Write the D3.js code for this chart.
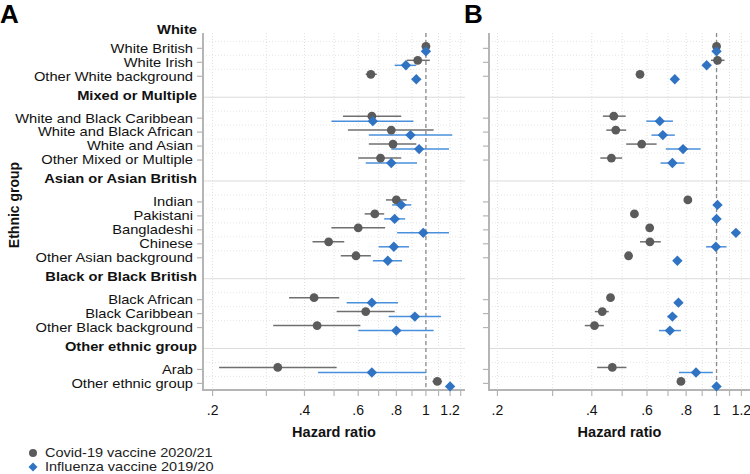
<!DOCTYPE html>
<html><head><meta charset="utf-8">
<script src="https://cdn.jsdelivr.net/npm/d3@7"></script>
<style>
body{margin:0;background:#fff;}
svg{display:block;font-family:"Liberation Sans",Arial,Helvetica,sans-serif;}
</style></head>
<body><svg id="chart" width="750" height="474"></svg>
<script>
// ---------- DATA ----------
const categories = ["White","White British","White Irish","Other White background",
  "Mixed or Multiple","White and Black Caribbean","White and Black African","White and Asian","Other Mixed or Multiple",
  "Asian or Asian British","Indian","Pakistani","Bangladeshi","Chinese","Other Asian background",
  "Black or Black British","Black African","Black Caribbean","Other Black background",
  "Other ethnic group","Arab","Other ethnic group"];
const headingIdx = [0,4,9,15,19];

// Panel A
const covidA_hr = [1.00,0.94,0.66, 0.665,0.77,0.78,0.71, 0.80,0.68,0.60,0.48,0.59, 0.43,0.635,0.44, 0.327,1.09];
const covidA_lo = [1.00,0.865,0.635, 0.535,0.555,0.65,0.60, 0.74,0.63,0.49,0.425,0.526, 0.356,0.51,0.316, 0.21,1.05];
const covidA_hi = [1.00,1.03,0.69, 0.83,1.06,0.93,0.83, 0.865,0.73,0.735,0.54,0.66, 0.52,0.79,0.61, 0.51,1.13];
const fluA_hr = [1.00,0.86,0.93, 0.67,0.89,0.95,0.77, 0.83,0.79,0.98,0.785,0.75, 0.665,0.92,0.80, 0.665,1.20];
const fluA_lo = [1.00,0.79,0.91, 0.49,0.65,0.77,0.635, 0.775,0.73,0.805,0.70,0.67, 0.55,0.755,0.60, 0.443,1.18];
const fluA_hi = [1.00,0.93,0.95, 0.91,1.22,1.19,0.935, 0.895,0.855,1.19,0.88,0.835, 0.81,1.12,1.06, 1.00,1.22];

// Panel B
const covidB_hr = [1.00,1.007,0.57, 0.47,0.477,0.577,0.462, 0.81,0.547,0.612,0.613,0.524, 0.459,0.432,0.408, 0.465,0.77];
const covidB_lo = [1.00,0.96,0.56, 0.434,0.445,0.515,0.426, 0.80,0.54,0.60,0.57,0.515, 0.45,0.409,0.38, 0.416,0.76];
const covidB_hi = [1.00,1.06,0.58, 0.513,0.515,0.644,0.50, 0.82,0.555,0.625,0.664,0.535, 0.47,0.453,0.437, 0.516,0.78];
const fluB_hr = [1.00,0.93,0.736, 0.659,0.674,0.782,0.723, 1.007,1.00,1.153,0.995,0.75, 0.756,0.723,0.71, 0.86,1.00];
const fluB_lo = [1.00,0.92,0.73, 0.597,0.62,0.689,0.663, 1.00,0.99,1.14,0.926,0.74, 0.745,0.697,0.655, 0.759,0.99];
const fluB_hi = [1.00,0.94,0.745, 0.726,0.736,0.89,0.79, 1.015,1.01,1.165,1.076,0.76, 0.77,0.75,0.77, 0.973,1.01];

const majorTicks = [0.2,0.4,0.6,0.8,1,1.2];
const majorLabels = [".2",".4",".6",".8","1","1.2"];
const minorTicks = [0.3,0.5,0.7,0.9,1.1,1.3];
const seriesNames = ["Covid-19 vaccine 2020/21","Influenza vaccine 2019/20"];

// ---------- LAYOUT ----------
const svg = d3.select("#chart");
const GREY = "#5b5b5b", GREY_CI = "#6f6f6f", BLUE = "#2f73c2", BLUE_CI = "#4a8fdb";
const SX = 1.185; // horizontal stretch to match reference glyph width

let u = -1.5; const pos = []; const sepPos = [];
categories.forEach((c,i)=>{
  if (headingIdx.includes(i)) {
    if (i===0) { pos.push(-1.1); u += 1.5; }
    else { u += 0.5; pos.push(u); sepPos.push(u); u += 1.5; }
  } else { pos.push(u); u += 1; }
});
const itemPos = pos.filter((p,i)=>!headingIdx.includes(i));

const y = d3.scaleLinear().domain([-1.1, 24.4]).range([33, 389]);

const panels = [
  {letter:"A", x: d3.scaleLog().domain([0.186,1.343]).range([203,465]), lx:0,
   c:[covidA_hr,covidA_lo,covidA_hi], f:[fluA_hr,fluA_lo,fluA_hi], labels:true},
  {letter:"B", x: d3.scaleLog().domain([0.188,1.288]).range([489,751]), lx:464,
   c:[covidB_hr,covidB_lo,covidB_hi], f:[fluB_hr,fluB_lo,fluB_hi], labels:false}
];

panels.forEach(p=>{
  const x = p.x;
  const [x0,x1] = x.range();
  const g = svg.append("g");
  const allTicks = majorTicks.concat(minorTicks).filter(t=>x(t)<=x1-1);

  g.selectAll(".hg").data(itemPos).join("line")
    .attr("x1",x0).attr("x2",x1).attr("y1",d=>y(d-0.5)).attr("y2",d=>y(d-0.5))
    .attr("stroke","#e6e6e6").attr("stroke-width",1).attr("stroke-dasharray","1,2");
  g.selectAll(".vg").data(allTicks).join("line")
    .attr("x1",d=>x(d)).attr("x2",d=>x(d)).attr("y1",y(-1.1)).attr("y2",y(24.4))
    .attr("stroke","#e0e0e0").attr("stroke-width",1).attr("stroke-dasharray","1,2");
  g.selectAll(".sep").data(sepPos).join("line")
    .attr("x1",x0).attr("x2",x1).attr("y1",d=>y(d)).attr("y2",d=>y(d))
    .attr("stroke","#dcdcdc").attr("stroke-width",1);
  g.append("line").attr("x1",x(1)).attr("x2",x(1)).attr("y1",y(-1.1)).attr("y2",y(24.4))
    .attr("stroke","#8a8a8a").attr("stroke-width",1.3).attr("stroke-dasharray","4,3");

  g.append("line").attr("x1",x0).attr("x2",x0).attr("y1",y(-1.1)).attr("y2",y(24.4)+1)
    .attr("stroke","#b5b5b5").attr("stroke-width",2);
  g.selectAll(".yt").data(itemPos).join("line")
    .attr("x1",x0-6).attr("x2",x0).attr("y1",d=>y(d)).attr("y2",d=>y(d))
    .attr("stroke","#b5b5b5").attr("stroke-width",1.2);
  g.append("line").attr("x1",x0-1).attr("x2",x1).attr("y1",y(24.4)+1).attr("y2",y(24.4)+1)
    .attr("stroke","#b5b5b5").attr("stroke-width",2);
  g.selectAll(".xt").data(allTicks).join("line")
    .attr("x1",d=>x(d)).attr("x2",d=>x(d)).attr("y1",y(24.4)+1).attr("y2",y(24.4)+7)
    .attr("stroke","#b5b5b5").attr("stroke-width",1.2);
  g.selectAll(".xl").data(majorTicks).join("text")
    .attr("x",d=>x(d)).attr("y",415).attr("text-anchor","middle")
    .attr("font-size",14).attr("fill","#111").text((d,i)=>majorLabels[i]);
  g.append("text").attr("x",(x0+Math.min(x1,750))/2).attr("y",437).attr("text-anchor","middle")
    .attr("font-size",14.5).attr("font-weight","bold").attr("fill","#111").text("Hazard ratio");

  g.append("text").attr("x",p.lx).attr("y",23).attr("font-size",26).attr("font-weight","bold")
    .attr("fill","#000").text(p.letter);

  if (p.labels) {
    g.selectAll(".lab").data(categories).join("text")
      .attr("transform",(d,i)=>{
        const isH = headingIdx.includes(i);
        const tx = isH ? 197 : 193;
        const ty = isH ? (i===0 ? y(pos[i])-3 : y(pos[i])-2) : y(pos[i]);
        return `translate(${tx},${ty}) scale(${SX},1)`;
      })
      .attr("dy","0.35em").attr("text-anchor","end")
      .attr("font-size",12.4).attr("font-weight",(d,i)=>headingIdx.includes(i)?"bold":"normal")
      .attr("fill","#111").text(d=>d);
  }

  const idx = d3.range(itemPos.length);
  g.selectAll(".cci").data(idx).join("line")
    .attr("x1",i=>x(p.c[1][i])).attr("x2",i=>x(p.c[2][i]))
    .attr("y1",i=>y(itemPos[i])-2).attr("y2",i=>y(itemPos[i])-2)
    .attr("stroke",GREY_CI).attr("stroke-width",1.5);
  g.selectAll(".fci").data(idx).join("line")
    .attr("x1",i=>x(p.f[1][i])).attr("x2",i=>x(p.f[2][i]))
    .attr("y1",i=>y(itemPos[i])+3).attr("y2",i=>y(itemPos[i])+3)
    .attr("stroke",BLUE_CI).attr("stroke-width",1.5);
  g.selectAll(".cp").data(idx).join("circle")
    .attr("cx",i=>x(p.c[0][i])).attr("cy",i=>y(itemPos[i])-2).attr("r",4.4)
    .attr("fill",GREY);
  g.selectAll(".fp").data(idx).join("path")
    .attr("d",d3.symbol(d3.symbolSquare, 54))
    .attr("transform",i=>`translate(${x(p.f[0][i])},${y(itemPos[i])+3}) rotate(45)`)
    .attr("fill",BLUE);
});

svg.append("text").attr("transform","translate(19,205) rotate(-90)").attr("text-anchor","middle")
  .attr("font-size",14).attr("font-weight","bold").attr("fill","#111").text("Ethnic group");

const lg = svg.append("g");
lg.append("circle").attr("cx",33).attr("cy",453).attr("r",4).attr("fill",GREY);
lg.append("path").attr("d",d3.symbol(d3.symbolSquare,40)).attr("transform","translate(33,467) rotate(45)").attr("fill",BLUE);
lg.selectAll(".lt").data(seriesNames).join("text")
  .attr("transform",(d,i)=>`translate(45,${453+i*14}) scale(1.19,1)`)
  .attr("dy","0.35em").attr("font-size",12.2)
  .attr("fill","#222").text(d=>d);
</script></body></html>
